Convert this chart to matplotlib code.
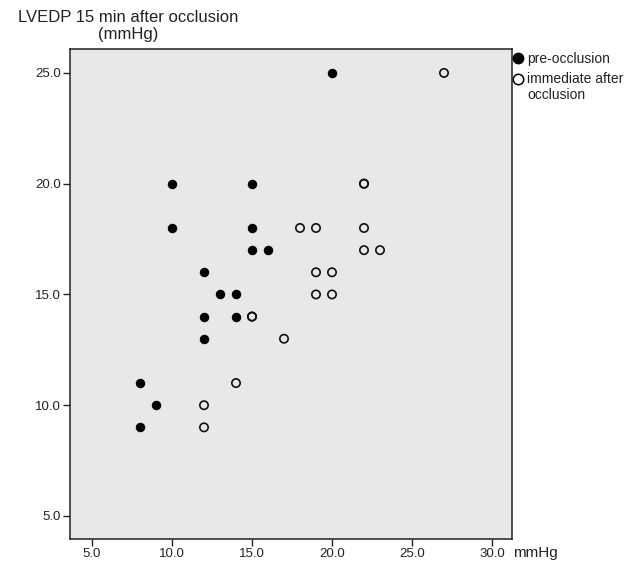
import matplotlib
matplotlib.use("Agg")
import matplotlib.pyplot as plt
from matplotlib.lines import Line2D

pre_x = [20, 10, 15, 10, 15, 15, 16, 12, 13, 14, 12, 14, 12, 8, 9, 8]
pre_y = [25, 20, 20, 18, 18, 17, 17, 16, 15, 15, 14, 14, 13, 11, 10, 9]
post_x = [27, 22, 22, 18, 19, 22, 22, 23, 19, 20, 19, 20, 15, 15, 17, 14, 12, 12]
post_y = [25, 20, 20, 18, 18, 18, 17, 17, 16, 16, 15, 15, 14, 14, 13, 11, 10, 9]
xticks = [5, 10, 15, 20, 25, 30]
yticks = [5, 10, 15, 20, 25]
legend_labels = ['pre-occlusion', 'immediate after', 'occlusion']

plt.rcParams['font.family'] = ['Liberation Sans', 'DejaVu Sans']
W, H = 636, 566
fig = plt.figure(figsize=(W/100, H/100), dpi=100)
L, R, T, B = 70, 512, 49, 539
ax = fig.add_axes([L/W, 1-B/H, (R-L)/W, (B-T)/H])
ax.set_facecolor('#e8e8e8')
ax.scatter(pre_x, pre_y, s=36, c='black', edgecolors='black', linewidths=0.8, zorder=3)
ax.scatter(post_x, post_y, s=36, facecolors='none', edgecolors='#111111', linewidths=1.2, zorder=3)
ax.set_xlim(3.625, 31.25)
ax.set_ylim(3.96, 26.08)
ax.set_xticks(xticks)
ax.set_xticklabels([f"{v:.1f}" for v in xticks])
ax.set_yticks(yticks)
ax.set_yticklabels([f"{v:.1f}" for v in yticks])
ax.tick_params(direction='out', length=5, width=1, labelsize=9.5, colors='#222222', pad=1.5)
for sp in ax.spines.values():
    sp.set_linewidth(1.1)
    sp.set_color('#222222')

fig.text(128/W, 1-22/H, "LVEDP 15 min after occlusion", ha='center', va='baseline', fontsize=12, color='#222222')
fig.text(128/W, 1-39/H, "(mmHg)", ha='center', va='baseline', fontsize=12, color='#222222')
fig.text(513/W, 1-553/H, "mmHg", ha='left', va='center', fontsize=11, color='#222222')

# legend drawn manually (SPSS style)
fig.add_artist(Line2D([518/W], [1-58/H], marker='o', linestyle='none', markersize=7.5,
                      markerfacecolor='black', markeredgecolor='black', transform=fig.transFigure))
fig.add_artist(Line2D([518/W], [1-79/H], marker='o', linestyle='none', markersize=7.5,
                      markerfacecolor='white', markeredgecolor='black', markeredgewidth=1.1,
                      transform=fig.transFigure))
fig.text(527/W, 1-59/H, legend_labels[0], ha='left', va='center', fontsize=10, color='#222222')
fig.text(527/W, 1-79/H, legend_labels[1], ha='left', va='center', fontsize=10, color='#222222')
fig.text(527/W, 1-95/H, legend_labels[2], ha='left', va='center', fontsize=10, color='#222222')
fig.savefig('out.png', dpi=100, facecolor='white')
